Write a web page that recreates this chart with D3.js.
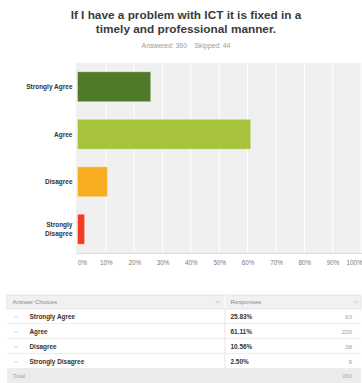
<!DOCTYPE html>
<html>
<head>
<meta charset="utf-8">
<script src="https://cdn.jsdelivr.net/npm/d3@7/dist/d3.min.js"></script>
<style>
  html, body { margin: 0; padding: 0; background: #fff; }
  svg { display: block; font-family: "Liberation Sans", Arial, Helvetica, sans-serif; }
</style>
</head>
<body>
<svg id="chart" width="362" height="383"></svg>
<script>
// Survey question results
const titleLines = ["If I have a problem with ICT it is fixed in a", "timely and professional manner."];
const answered = 360;
const skipped = 44;
const categories = ["Strongly Agree", "Agree", "Disagree", "Strongly Disagree"];
const percents = [25.83, 61.11, 10.56, 2.50];
const counts = [93, 220, 38, 9];
const total = 360;
const barColors = ["#4e7a29", "#a7c33d", "#f6ad1f", "#f23b21"];
const tickValues = [0, 10, 20, 30, 40, 50, 60, 70, 80, 90, 100];

const svg = d3.select("#chart");

// Title
const title = svg.append("g").attr("font-weight", "bold").attr("fill", "#3a3a3a")
  .attr("font-size", 11.8).attr("text-anchor", "middle");
titleLines.forEach((t, i) => {
  title.append("text").attr("x", 186).attr("y", 19.3 + i * 14).text(t);
});
svg.append("text").attr("x", 186).attr("y", 47.5).attr("text-anchor", "middle")
  .attr("font-size", 6.8).attr("fill", "#9a9a9a")
  .text(`Answered: ${answered}\u00a0\u00a0\u00a0\u00a0Skipped: ${skipped}`);

// Plot area
const plot = { left: 77.5, right: 361, top: 63, bottom: 253 };
const x = d3.scaleLinear().domain([0, 100]).range([plot.left, plot.right]);
const y = d3.scaleBand().domain(categories).range([plot.top, plot.bottom])
  .paddingInner(0.37).paddingOuter(0.185);

svg.append("rect").attr("x", plot.left - 1.5).attr("y", plot.top)
  .attr("width", 362 - plot.left + 1.5).attr("height", plot.bottom - plot.top)
  .attr("fill", "#eff0ef");

// Vertical gridlines
svg.append("g").selectAll("line").data(tickValues.slice(1))
  .join("line")
  .attr("x1", d => x(d)).attr("x2", d => x(d))
  .attr("y1", plot.top).attr("y2", plot.bottom)
  .attr("stroke", "#ffffff").attr("stroke-width", 1);

// Bottom axis line
svg.append("line").attr("x1", plot.left - 1.5).attr("x2", 362)
  .attr("y1", plot.bottom + 0.5).attr("y2", plot.bottom + 0.5)
  .attr("stroke", "#dcdcdc").attr("stroke-width", 1);

// Bars
svg.append("g").selectAll("rect").data(categories)
  .join("rect")
  .attr("x", x(0))
  .attr("y", d => y(d))
  .attr("width", (d, i) => x(percents[i]) - x(0))
  .attr("height", y.bandwidth())
  .attr("fill", (d, i) => barColors[i])
  .attr("stroke", "rgba(255,255,255,0.35)")
  .attr("stroke-width", 1);

// Category labels
const catG = svg.append("g").attr("font-size", 6.5).attr("font-weight", "bold")
  .attr("fill", "#333").attr("text-anchor", "end");
categories.forEach(c => {
  const words = c === "Strongly Disagree" ? ["Strongly", "Disagree"] : [c];
  const cy = y(c) + y.bandwidth() / 2;
  const lh = 8.3;
  words.forEach((w, j) => {
    catG.append("text").attr("x", 72.5)
      .attr("y", cy + (j - (words.length - 1) / 2) * lh)
      .attr("dy", "0.35em").text(w);
  });
});

// X axis tick labels
const xAxis = d3.axisBottom(x).tickValues(tickValues).tickFormat(d => d + "%").tickSize(0).tickPadding(0);
const axG = svg.append("g").attr("transform", `translate(0,${plot.bottom + 8})`).call(xAxis);
axG.select(".domain").remove();
axG.selectAll("text").attr("font-size", 6.3).attr("fill", "#7a7a7a")
  .attr("font-family", "Liberation Sans, Arial, sans-serif")
  .attr("text-anchor", d => d === 0 ? "start" : d === 100 ? "end" : "middle")
  .attr("dx", d => d === 100 ? 1 : 0);

// Response table
const tbl = { left: 7, right: 361, headTop: 295, headH: 14, rowH: 15, divX: 225 };
const tg = svg.append("g");
tg.append("rect").attr("x", tbl.left).attr("y", tbl.headTop)
  .attr("width", tbl.right - tbl.left).attr("height", tbl.headH)
  .attr("fill", "#f1f1f1").attr("stroke", "#e2e2e2").attr("stroke-width", 0.8);
tg.append("line").attr("x1", tbl.divX).attr("x2", tbl.divX)
  .attr("y1", tbl.headTop).attr("y2", tbl.headTop + tbl.headH)
  .attr("stroke", "#ffffff").attr("stroke-width", 1);
tg.append("text").attr("x", 12.5).attr("y", tbl.headTop + tbl.headH / 2).attr("dy", "0.35em")
  .attr("font-size", 6.2).attr("fill", "#8a8a8a").text("Answer Choices");
tg.append("text").attr("x", 230.5).attr("y", tbl.headTop + tbl.headH / 2).attr("dy", "0.35em")
  .attr("font-size", 6.2).attr("fill", "#8a8a8a").text("Responses");
[217.5, 355.5].forEach(cx => {
  tg.append("path")
    .attr("d", `M${cx - 1.8},${tbl.headTop + 6.2} L${cx},${tbl.headTop + 7.8} L${cx + 1.8},${tbl.headTop + 6.2}`)
    .attr("fill", "none").attr("stroke", "#b0b0b0").attr("stroke-width", 0.7);
});

const rowTop = tbl.headTop + tbl.headH;
const rows = tg.append("g").selectAll("g").data(categories).join("g")
  .attr("transform", (d, i) => `translate(0,${rowTop + i * tbl.rowH})`);
rows.append("line").attr("x1", tbl.left).attr("x2", tbl.right)
  .attr("y1", tbl.rowH - 0.5).attr("y2", tbl.rowH - 0.5)
  .attr("stroke", "#e8e8e8").attr("stroke-width", 0.8);
rows.append("path")
  .attr("d", `M14.2,${tbl.rowH / 2 + 0.3} L17.8,${tbl.rowH / 2 + 0.3}`)
  .attr("stroke", "#b8b8b8").attr("stroke-width", 0.7);
rows.append("text").attr("x", 29.5).attr("y", tbl.rowH / 2).attr("dy", "0.35em")
  .attr("font-size", 6.4).attr("font-weight", "bold").attr("fill", "#333").text(d => d);
rows.append("text").attr("x", 230.5).attr("y", tbl.rowH / 2).attr("dy", "0.35em")
  .attr("font-size", 6.4).attr("font-weight", "bold").attr("fill", "#333")
  .text((d, i) => d3.format(".2f")(percents[i]) + "%");
rows.append("text").attr("x", 352).attr("y", tbl.rowH / 2).attr("dy", "0.35em")
  .attr("text-anchor", "end").attr("font-size", 6.2).attr("fill", "#a0a0a0")
  .text((d, i) => counts[i]);
tg.append("line").attr("x1", tbl.divX).attr("x2", tbl.divX)
  .attr("y1", rowTop).attr("y2", rowTop + categories.length * tbl.rowH)
  .attr("stroke", "#dedede").attr("stroke-width", 0.8);

// Total row
const totTop = rowTop + categories.length * tbl.rowH;
tg.append("rect").attr("x", tbl.left).attr("y", totTop)
  .attr("width", tbl.right - tbl.left).attr("height", 14)
  .attr("fill", "#ececec");
tg.append("text").attr("x", 12.5).attr("y", totTop + 7).attr("dy", "0.35em")
  .attr("font-size", 6).attr("fill", "#a8a8a8").text("Total");
tg.append("text").attr("x", 352).attr("y", totTop + 7).attr("dy", "0.35em")
  .attr("text-anchor", "end").attr("font-size", 6).attr("fill", "#a8a8a8").text(total);
</script>
</body>
</html>
